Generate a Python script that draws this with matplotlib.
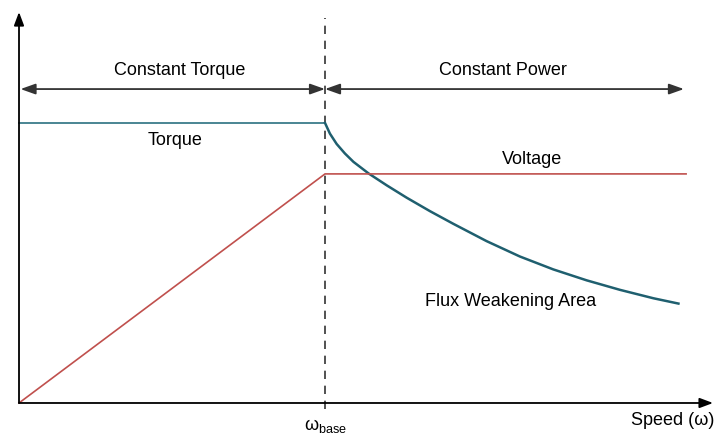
import matplotlib.pyplot as plt

plt.rcParams['font.family'] = ['Liberation Sans', 'DejaVu Sans']
plt.rcParams['mathtext.fontset'] = 'custom'
plt.rcParams['mathtext.rm'] = 'Liberation Sans'
plt.rcParams['mathtext.default'] = 'regular'

# speed normalised to base speed, torque normalised to rated torque
w_base = 1.0
torque_const = [0.0, 1.0]          # speed points of flat torque part
torque_const_val = [1.0, 1.0]
fw_speed = [1.0, 1.016, 1.038, 1.065, 1.093, 1.142, 1.202, 1.267, 1.343,
            1.419, 1.528, 1.637, 1.746, 1.855, 1.964, 2.073, 2.155]
fw_torque = [1.0, 0.962, 0.925, 0.891, 0.861, 0.820, 0.777, 0.733, 0.685,
             0.640, 0.578, 0.523, 0.477, 0.438, 0.404, 0.374, 0.355]
volt_speed = [0.0, 1.0, 2.18]
volt_val = [0.0, 0.818, 0.818]

teal = '#1f5f6f'
red = '#c0504d'
ink = '#333333'

fig = plt.figure(figsize=(7.14, 4.38), dpi=100)
ax = fig.add_axes([0, 0, 1, 1])
ax.set_xlim(-0.0621, 2.2712)
ax.set_ylim(-0.125, 1.439)
ax.axis('off')

# axes with arrow heads
arrow = dict(arrowstyle='-|>,head_length=0.8,head_width=0.3', color='black', lw=1.3,
             shrinkA=0, shrinkB=0)
ax.annotate('', xy=(2.268, 0), xytext=(0, 0), arrowprops=arrow)
ax.annotate('', xy=(0, 1.396), xytext=(0, 0), arrowprops=arrow)

# region arrows
dbl = dict(arrowstyle='<|-|>,head_length=0.9,head_width=0.32', color=ink, lw=1.3,
           shrinkA=0, shrinkB=0)
ax.annotate('', xy=(w_base, 1.121), xytext=(0.005, 1.121), arrowprops=dbl)
ax.annotate('', xy=(2.173, 1.121), xytext=(w_base, 1.121), arrowprops=dbl)

# base speed marker
ax.plot([w_base, w_base], [-0.021, 1.375], color=ink, lw=1.2, ls=(0, (5, 4)))

# curves
ax.plot(torque_const, torque_const_val, color='#4a8593', lw=1.4)
ax.plot(fw_speed, fw_torque, color=teal, lw=1.8)
ax.plot(volt_speed, volt_val, color=red, lw=1.2)

fs = 13
ax.text(0.526, 1.189, 'Constant Torque', fontsize=fs, ha='center', va='center')
ax.text(1.582, 1.189, 'Constant Power', fontsize=fs, ha='center', va='center')
ax.text(0.51, 0.936, 'Torque', fontsize=fs, ha='center', va='center')
ax.text(1.676, 0.871, 'Voltage', fontsize=fs, ha='center', va='center')
ax.text(1.605, 0.364, 'Flux Weakening Area', fontsize=fs, ha='center', va='center')
ax.text(w_base, -0.096, r'$\omega_{base}$', fontsize=fs, ha='center', va='baseline')
ax.text(2.137, -0.061, 'Speed (ω)', fontsize=fs, ha='center', va='center')

plt.savefig('out.png', dpi=100)
